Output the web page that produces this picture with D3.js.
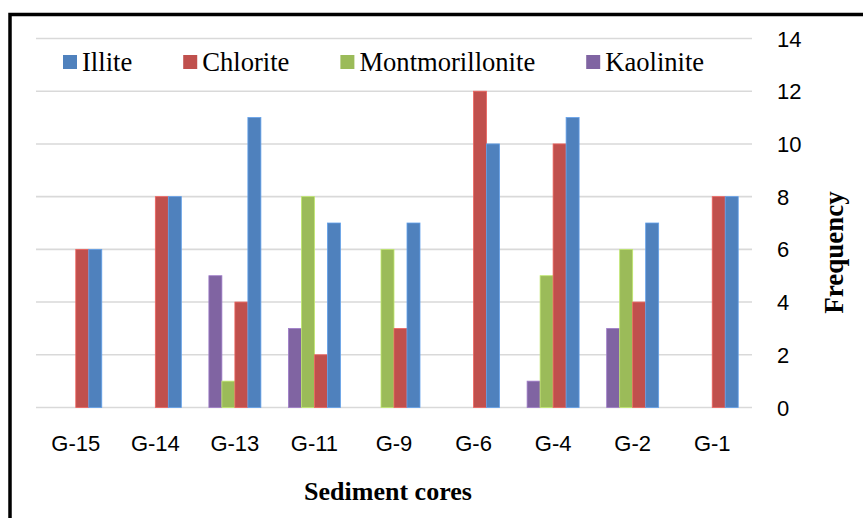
<!DOCTYPE html>
<html>
<head>
<meta charset="utf-8">
<script src="https://cdn.jsdelivr.net/npm/d3@7"></script>
<style>
  html, body { margin: 0; padding: 0; background: #fff; }
  svg { display: block; }
</style>
</head>
<body>
<svg id="chart" width="863" height="518"></svg>
<script>
// Sediment cores along the x axis
const cores = ["G-15", "G-14", "G-13", "G-11", "G-9", "G-6", "G-4", "G-2", "G-1"];

// Frequency of each clay mineral per core
const illite          = [6, 8, 11, 7, 7, 10, 11, 7, 8];
const chlorite        = [6, 8, 4, 2, 3, 12, 10, 4, 8];
const montmorillonite = [0, 0, 1, 8, 6, 0, 5, 6, 0];
const kaolinite       = [0, 0, 5, 3, 0, 0, 1, 3, 0];

const yTicks = [0, 2, 4, 6, 8, 10, 12, 14];

// Legend order (top) and drawing order within each group (left to right)
const legendOrder = ["Illite", "Chlorite", "Montmorillonite", "Kaolinite"];
const barOrder    = ["Kaolinite", "Montmorillonite", "Chlorite", "Illite"];

const seriesValues = {
  "Illite": illite,
  "Chlorite": chlorite,
  "Montmorillonite": montmorillonite,
  "Kaolinite": kaolinite
};
const colors = {
  "Illite": "#4F81BD",
  "Chlorite": "#C0504D",
  "Montmorillonite": "#9BBB59",
  "Kaolinite": "#8064A2"
};

const svg = d3.select("#chart");
const plot = { left: 36, right: 752, top: 38.5, bottom: 407.5 };

const x0 = d3.scaleBand().domain(cores).range([plot.left, plot.right]);
const x1 = d3.scaleBand().domain(barOrder).range([0, x0.bandwidth()])
  .paddingInner(0).paddingOuter(1.06);
const y = d3.scaleLinear().domain([0, 14]).range([plot.bottom, plot.top]);

// Background
svg.append("rect").attr("width", 863).attr("height", 518).attr("fill", "#fff");

// Gridlines
svg.append("g").selectAll("line").data(yTicks).join("line")
  .attr("x1", plot.left).attr("x2", plot.right)
  .attr("y1", d => y(d)).attr("y2", d => y(d))
  .attr("stroke", "#D9D9D9").attr("stroke-width", 1.6);

// Bars
const groups = svg.append("g").selectAll("g").data(cores).join("g")
  .attr("transform", d => `translate(${x0(d)},0)`);

groups.selectAll("rect")
  .data((c, i) => barOrder.map(s => ({ s, v: seriesValues[s][i] })).filter(d => d.v > 0))
  .join("rect")
  .attr("x", d => x1(d.s))
  .attr("width", x1.bandwidth())
  .attr("y", d => y(d.v))
  .attr("height", d => y(0) - y(d.v))
  .attr("fill", d => colors[d.s])
  .attr("stroke", d => d3.color(colors[d.s]).brighter(0.6))
  .attr("stroke-width", 0.8);

// Right-hand value axis labels
const yAxis = d3.axisRight(y).tickValues(yTicks).tickSize(0).tickPadding(0);
const yG = svg.append("g").attr("transform", "translate(777,0)").call(yAxis);
yG.select(".domain").remove();
yG.selectAll("text")
  .attr("font-family", "'Liberation Sans', Arial, sans-serif")
  .attr("font-size", 22).attr("fill", "#000")
  .attr("dy", null).attr("dominant-baseline", "central");

// Category axis labels
const xAxis = d3.axisBottom(x0).tickSize(0).tickPadding(0);
const xG = svg.append("g").attr("transform", "translate(0,451)").call(xAxis);
xG.select(".domain").remove();
xG.selectAll("text")
  .attr("font-family", "'Liberation Sans', Arial, sans-serif")
  .attr("font-size", 22).attr("fill", "#000")
  .attr("y", 0).attr("dy", null);

// Axis titles
svg.append("text")
  .attr("x", 388).attr("y", 500)
  .attr("text-anchor", "middle")
  .attr("font-family", "'Liberation Serif', 'Times New Roman', serif")
  .attr("font-weight", "bold").attr("font-size", 26)
  .text("Sediment cores");

svg.append("text")
  .attr("transform", "translate(843,252.5) rotate(-90)")
  .attr("text-anchor", "middle")
  .attr("font-family", "'Liberation Serif', 'Times New Roman', serif")
  .attr("font-weight", "bold").attr("font-size", 27)
  .text("Frequency");

// Legend
const legend = svg.append("g");
let lx = 63;
legendOrder.forEach(s => {
  legend.append("rect")
    .attr("x", lx).attr("y", 55).attr("width", 14).attr("height", 14)
    .attr("fill", colors[s]);
  const t = legend.append("text")
    .attr("x", lx + 19).attr("y", 71)
    .attr("font-family", "'Liberation Serif', 'Times New Roman', serif")
    .attr("font-size", 26.6).attr("fill", "#000")
    .text(s);
  lx += 19 + t.node().getComputedTextLength() + 51;
});

// Outer frame
svg.append("rect")
  .attr("x", 10).attr("y", 14.5).attr("width", 900).attr("height", 600)
  .attr("fill", "none").attr("stroke", "#000").attr("stroke-width", 3.5);
</script>
</body>
</html>
